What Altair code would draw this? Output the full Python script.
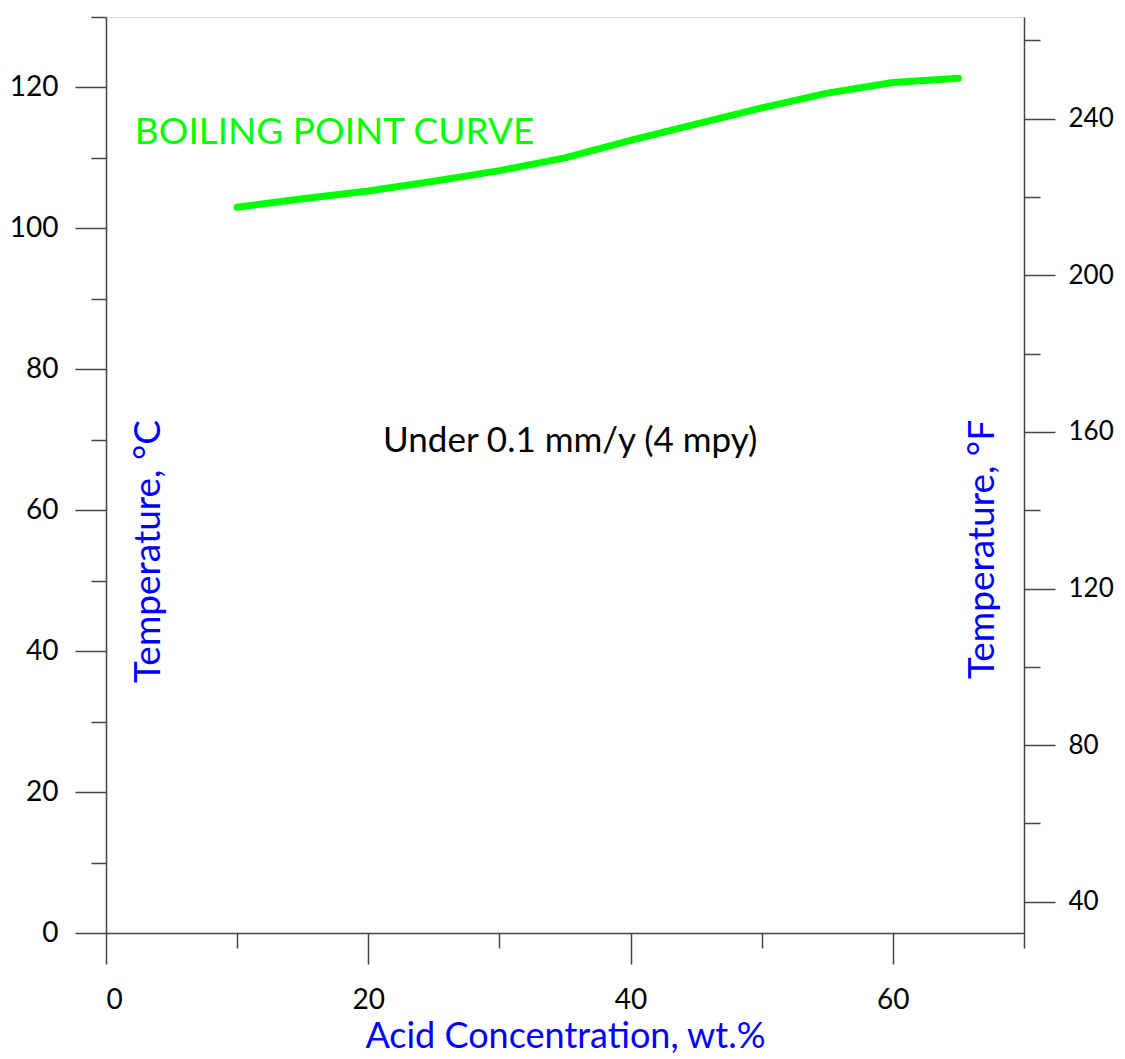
import altair as alt
import pandas as pd

# Boiling point curve (acid concentration wt.% vs temperature °C)
conc = [10, 15, 20, 25, 30, 35, 40, 45, 50, 55, 60, 65]
temp_c = [103.0, 104.2, 105.3, 106.7, 108.2, 110.0, 112.5, 114.8, 117.1, 119.2, 120.7, 121.3]

# Annotations (placed in data coordinates)
note_text = ["BOILING POINT CURVE", "Under 0.1 mm/y (4 mpy)"]
note_x = [2.2, 35.4]
note_y = [113.5, 69.8]
note_align = ["left", "center"]

# Axis tick values
x_major = [0, 20, 40, 60]
x_minor = [10, 30, 50, 70]
c_major = [0, 20, 40, 60, 80, 100, 120]
c_minor = [10, 30, 50, 70, 90, 110, 130]
f_major = [40, 80, 120, 160, 200, 240]
f_minor = [60, 100, 140, 180, 220, 260]

X_DOMAIN = [0, 70]
C_DOMAIN = [0, 130]
F_DOMAIN = [C_DOMAIN[0] * 1.8 + 32, C_DOMAIN[1] * 1.8 + 32]

FONT = "Lato"
AX = "#444444"
BLUE = "#0000FF"

df = pd.DataFrame({"conc": conc, "temp_c": temp_c})
df["temp_f"] = df["temp_c"] * 1.8 + 32
notes = pd.DataFrame({"text": note_text, "x": note_x, "y": note_y, "align": note_align})

W, H = 918, 916

xs = alt.Scale(domain=X_DOMAIN, nice=False, zero=False)
cs = alt.Scale(domain=C_DOMAIN, nice=False, zero=False)
fs = alt.Scale(domain=F_DOMAIN, nice=False, zero=False)

common_axis = dict(domainColor=AX, domainWidth=1.5, tickColor=AX, tickWidth=1.5,
                   labelFont=FONT, labelFontSize=28, labelColor="#000000",
                   grid=False, titleFont=FONT, titleColor=BLUE, titleFontSize=37,
                   titleFontWeight="normal")

x_major_axis = alt.Axis(orient="bottom", values=x_major, tickSize=31, labelPadding=22,
                        title="Acid Concentration, wt.%", titleX=W / 2, titleY=103,
                        titleBaseline="middle", titleAlign="center", format="d",
                        **{**common_axis, "titleFontSize": 36})
x_minor_axis = alt.Axis(orient="bottom", values=x_minor, tickSize=15, labels=False,
                        domain=False, title=None, tickColor=AX, tickWidth=1.5, grid=False)

c_major_axis = alt.Axis(orient="left", values=c_major, tickSize=31, labelPadding=17,
                        title="Temperature, °C", titleX=42, titleY=534, titleAngle=270,
                        titleBaseline="middle", titleAlign="center", format="d",
                        **common_axis)
c_minor_axis = alt.Axis(orient="left", values=c_minor, tickSize=15, labels=False,
                        domain=False, title=None, tickColor=AX, tickWidth=1.5, grid=False)

f_major_axis = alt.Axis(orient="right", values=f_major, tickSize=31, labelPadding=13,
                        title="Temperature, °F", titleX=-42, titleY=532, titleAngle=270,
                        titleBaseline="middle", titleAlign="center", format="d",
                        **{**common_axis, "labelFontSize": 26})
f_minor_axis = alt.Axis(orient="right", values=f_minor, tickSize=16, labels=False,
                        domain=False, title=None, tickColor=AX, tickWidth=1.5, grid=False)

base = alt.Chart(df)

curve = base.mark_line(color="#00FF00", strokeWidth=7, strokeCap="round",
                       strokeJoin="round").encode(
    x=alt.X("conc:Q", scale=xs, axis=x_major_axis),
    y=alt.Y("temp_c:Q", scale=cs, axis=c_major_axis),
)

minor_c = base.mark_line(strokeOpacity=0).encode(
    x=alt.X("conc:Q", scale=xs, axis=x_minor_axis),
    y=alt.Y("temp_c:Q", scale=cs, axis=c_minor_axis),
)

major_f = base.mark_line(strokeOpacity=0).encode(
    x=alt.X("conc:Q", scale=xs, axis=None),
    y=alt.Y("temp_f:Q", scale=fs, axis=f_major_axis),
)

minor_f = base.mark_line(strokeOpacity=0).encode(
    x=alt.X("conc:Q", scale=xs, axis=None),
    y=alt.Y("temp_f:Q", scale=fs, axis=f_minor_axis),
)

text_left = alt.Chart(notes).transform_filter(alt.datum.align == "left").mark_text(
    font=FONT, fontSize=37, align="left", baseline="middle", color="#00FF00"
).encode(
    x=alt.X("x:Q", scale=xs, axis=None),
    y=alt.Y("y:Q", scale=cs, axis=None),
    text="text:N",
)

text_center = alt.Chart(notes).transform_filter(alt.datum.align == "center").mark_text(
    font=FONT, fontSize=35, align="center", baseline="middle", color="#000000"
).encode(
    x=alt.X("x:Q", scale=xs, axis=None),
    y=alt.Y("y:Q", scale=cs, axis=None),
    text="text:N",
)

chart = alt.layer(curve, minor_c, major_f, minor_f, text_left, text_center).resolve_scale(
    x="independent", y="independent"
).resolve_axis(
    x="independent", y="independent"
).properties(
    width=W, height=H,
    autosize=alt.AutoSizeParams(type="none"),
    padding={"left": 98, "top": 9, "right": 92, "bottom": 122},
).configure_view(
    stroke=AX, strokeWidth=1.5
).configure(background="white")

chart.save("out.html", embed_options={"renderer": "svg", "actions": False})
